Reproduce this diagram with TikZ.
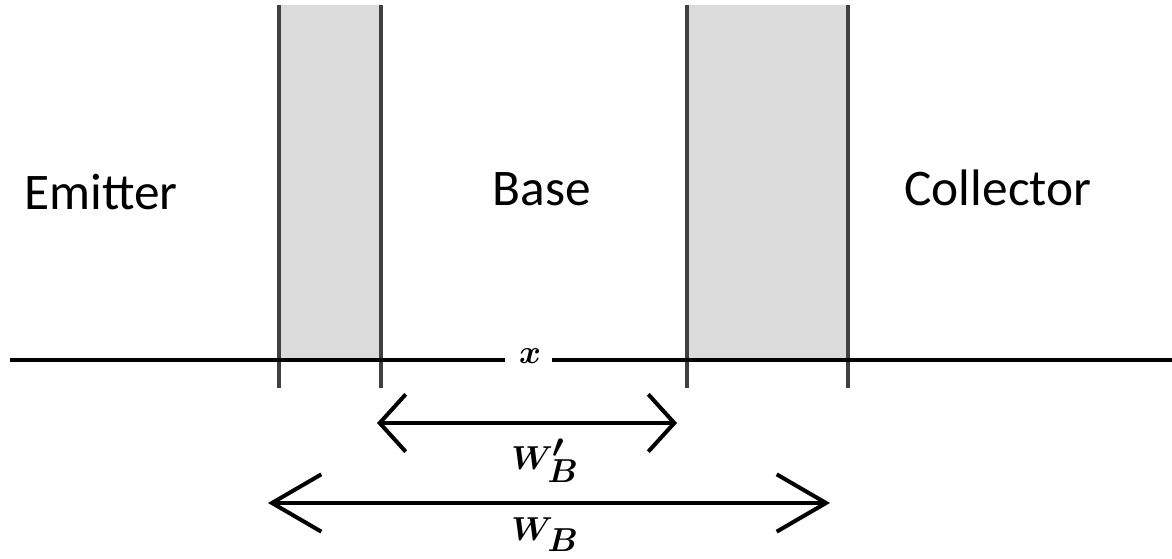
\documentclass[tikz,border=0pt]{standalone}
\usepackage{fontspec}
\setmainfont{Carlito}
\usetikzlibrary{arrows.meta}
\begin{document}
\begin{tikzpicture}[x=0.75pt,y=-0.75pt,
  region/.style={font=\fontsize{38.5}{44}\selectfont, inner sep=0pt},
  mlabel/.style={font=\fontsize{33}{38}\selectfont\boldmath, inner sep=0pt},
  vline/.style={line width=2.5pt, draw=black!75},
  band/.style={fill=black!14, draw=none},
  dim/.style={line width=3pt, {Straight Barb[length=19.5pt,width=43pt,line width=3pt]}-{Straight Barb[length=19.5pt,width=43pt,line width=3pt]}},
  dimbig/.style={line width=3pt, {Straight Barb[length=37pt,width=43pt,line width=3pt]}-{Straight Barb[length=37pt,width=43pt,line width=3pt]}}
]
\useasboundingbox (0,0) rectangle (1172,559);
% shaded depletion regions
\fill[band] (279,5) rectangle (381,360);
\fill[band] (687,5) rectangle (848,360);
% vertical boundaries
\draw[vline] (279,5) -- (279,388);
\draw[vline] (381,5) -- (381,388);
\draw[vline] (687,5) -- (687,388);
\draw[vline] (848,5) -- (848,388);
% axis
\node[mlabel] (xl) at (530,356) {$x$};
\coordinate (a0) at (10,360);
\coordinate (a1) at (1172,360);
\coordinate (g0) at (505,360);
\coordinate (g1) at (552,360);
\draw[line width=3pt] (a0) -- (g0);
\draw[line width=3pt] (g1) -- (a1);
% region labels
\node[region] (em) at (101,192) {Emitter};
\node[region] (ba) at (542,189) {Base};
\node[region] (co) at (998,188) {Collector};
% dimension arrows
\coordinate (p1) at (377,423);
\coordinate (p2) at (677,423);
\draw[dim] (p1) -- (p2);
\node[mlabel] (wbp) at (545,461) {$W'_B$};
\coordinate (q1) at (268,503);
\coordinate (q2) at (830,503);
\draw[dimbig] (q1) -- (q2);
\node[mlabel] (wb) at (545,535) {$W_B$};
\end{tikzpicture}
\end{document}
